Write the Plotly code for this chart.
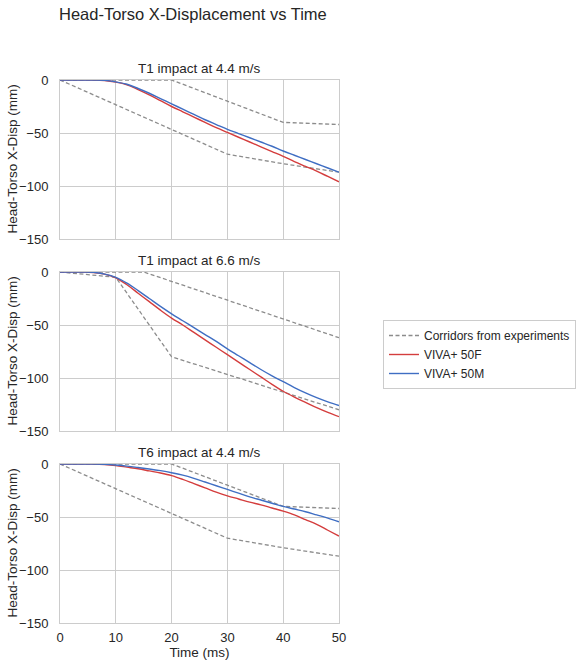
import plotly.graph_objects as go

# ---------------- data ----------------
time_ms = [0, 2, 4, 6, 8, 10, 12, 14, 16, 18, 20, 22, 24, 26, 28, 30, 32, 34, 36, 38, 40, 42, 44, 46, 48, 50]

titles = ["T1 impact at 4.4 m/s", "T1 impact at 6.6 m/s", "T6 impact at 4.4 m/s"]

# VIVA+ 50F
f50_t1_44 = [0, 0, 0, 0, -0.5, -2, -4.5, -9, -14, -19.5, -25, -30, -35, -40, -45, -49.5,
             -54, -58.5, -63, -67.5, -72, -77, -81.5, -86, -91, -96]
f50_t1_66 = [0, 0, 0, -0.5, -2, -5.5, -12, -20, -28, -36, -43.5, -50, -57, -64, -71, -78,
             -85, -92, -99, -106, -112.5, -118, -123, -128, -132.5, -136.5]
f50_t6_44 = [0, 0, 0, 0, -0.5, -1.5, -3, -4.5, -6.5, -8.5, -11, -14.5, -18.5, -22.5, -26.5, -30,
             -33, -36, -38.5, -41.5, -44.5, -48, -52.5, -57, -62.5, -68]

# VIVA+ 50M
m50_t1_44 = [0, 0, 0, 0, -0.3, -1.8, -4, -8, -12.5, -17.5, -22.5, -27.5, -32.5, -37.5, -42, -46.5,
             -50.5, -54.5, -58.5, -62.5, -67, -71, -75, -79, -83, -87]
m50_t1_66 = [0, 0, 0, -0.3, -2, -5, -10.5, -17.5, -25, -32.5, -39.5, -46, -52.5, -59, -65.5, -72.5,
             -79, -85.5, -92, -98, -103.5, -109, -114, -118.5, -122.5, -126]
m50_t6_44 = [0, 0, 0, 0, -0.3, -1, -2, -3.3, -4.7, -6.3, -8.2, -10.5, -13.5, -17, -20.5, -24,
             -27.5, -31, -34, -37, -40, -42.5, -45, -48, -51, -54.5]

# Corridors from experiments (upper / lower bounds)
cor_t1_44_up_t = [0, 20, 30, 40, 50]
cor_t1_44_up_y = [0, 0, -20, -40, -42]
cor_t1_44_lo_t = [0, 30, 40, 50]
cor_t1_44_lo_y = [0, -70, -79, -87]

cor_t1_66_up_t = [0, 15, 50]
cor_t1_66_up_y = [0, 0, -62]
cor_t1_66_lo_t = [0, 10, 20, 50]
cor_t1_66_lo_y = [0, -5, -80, -130]

cor_t6_44_up_t = [0, 20, 30, 40, 50]
cor_t6_44_up_y = [0, 0, -20, -40, -42]
cor_t6_44_lo_t = [0, 30, 40, 50]
cor_t6_44_lo_y = [0, -70, -79, -87]

y_ticks = [0, -50, -100, -150]
x_ticks = [0, 10, 20, 30, 40, 50]

# ---------------- figure ----------------
W, H = 582, 664
FONT = "Liberation Sans, Arial, sans-serif"
TXT = "#262626"
GRID = "#cccccc"
RED = "#d43d3d"
BLUE = "#3f6ec3"
GRAYD = "#8c8c8c"

panels = [
    (f50_t1_44, m50_t1_44, cor_t1_44_up_t, cor_t1_44_up_y, cor_t1_44_lo_t, cor_t1_44_lo_y),
    (f50_t1_66, m50_t1_66, cor_t1_66_up_t, cor_t1_66_up_y, cor_t1_66_lo_t, cor_t1_66_lo_y),
    (f50_t6_44, m50_t6_44, cor_t6_44_up_t, cor_t6_44_up_y, cor_t6_44_lo_t, cor_t6_44_lo_y),
]

# pixel layout
x0, x1 = 60, 339
tops = [80, 272, 464]
ph = 159

fig = go.Figure()
annotations = []
for i, (f, m, ut, uy, lt, ly) in enumerate(panels):
    ax = "" if i == 0 else str(i + 1)
    xref, yref = "x" + ax, "y" + ax
    show = (i == 0)
    fig.add_trace(go.Scatter(x=ut, y=uy, mode="lines", xaxis=xref, yaxis=yref,
                             line=dict(color=GRAYD, width=1.3, dash="4px,2.5px"),
                             name="Corridors from experiments", legendgroup="c",
                             showlegend=show))
    fig.add_trace(go.Scatter(x=lt, y=ly, mode="lines", xaxis=xref, yaxis=yref,
                             line=dict(color=GRAYD, width=1.3, dash="4px,2.5px"),
                             name="Corridors from experiments", legendgroup="c",
                             showlegend=False))
    fig.add_trace(go.Scatter(x=time_ms, y=f, mode="lines", xaxis=xref, yaxis=yref,
                             line=dict(color=RED, width=1.4, shape="spline"),
                             name="VIVA+ 50F", legendgroup="f", showlegend=show))
    fig.add_trace(go.Scatter(x=time_ms, y=m, mode="lines", xaxis=xref, yaxis=yref,
                             line=dict(color=BLUE, width=1.4, shape="spline"),
                             name="VIVA+ 50M", legendgroup="m", showlegend=show))

    top = 1 - tops[i] / H
    bot = 1 - (tops[i] + ph) / H
    fig.layout["xaxis" + ax] = dict(
        domain=[x0 / W, x1 / W], range=[0, 50], anchor=yref, automargin=False,
        tickvals=x_ticks, showticklabels=(i == 2),
        showgrid=True, gridcolor=GRID, gridwidth=1, zeroline=False,
        showline=True, linecolor=GRID, linewidth=1, mirror=True,
        ticks="", ticklabelstandoff=2, tickfont=dict(size=13, color=TXT, family=FONT),
        title=dict(text="Time (ms)" if i == 2 else "", font=dict(size=13.5, color=TXT, family=FONT), standoff=0),
    )
    fig.layout["yaxis" + ax] = dict(
        domain=[bot, top], range=[-150, 0], anchor=xref, automargin=False,
        tickvals=y_ticks,
        showgrid=True, gridcolor=GRID, gridwidth=1, zeroline=False,
        showline=True, linecolor=GRID, linewidth=1, mirror=True,
        ticks="", ticklabelstandoff=8, tickfont=dict(size=13, color=TXT, family=FONT),
    )
    # y-axis title
    annotations.append(dict(
        text="Head-Torso X-Disp (mm)", x=12 / W, y=(top + bot) / 2, xref="paper", yref="paper",
        xanchor="center", yanchor="middle", textangle=-90, showarrow=False,
        font=dict(size=13.5, color=TXT, family=FONT)))
    # subplot title
    annotations.append(dict(
        text=titles[i], x=(x0 + x1) / 2 / W, y=top, xref="paper", yref="paper",
        xanchor="center", yanchor="bottom", yshift=2, showarrow=False,
        font=dict(size=13.5, color=TXT, family=FONT)))

annotations.append(dict(
    text="Head-Torso X-Displacement vs Time", x=193 / W, y=1 - 14 / H,
    xref="paper", yref="paper", xanchor="center", yanchor="middle", showarrow=False,
    font=dict(size=16.5, color=TXT, family=FONT)))

fig.update_layout(
    width=W, height=H,
    margin=dict(l=0, r=0, t=0, b=0, autoexpand=False),
    paper_bgcolor="white", plot_bgcolor="white",
    font=dict(family=FONT, color=TXT),
    annotations=annotations,
    legend=dict(x=383 / W, y=1 - 320 / H, xanchor="left", yanchor="top",
                bgcolor="white", bordercolor=GRID, borderwidth=1,
                font=dict(size=12, color=TXT, family=FONT),
                tracegroupgap=0, itemwidth=30),
)

fig.write_html("out.html")
